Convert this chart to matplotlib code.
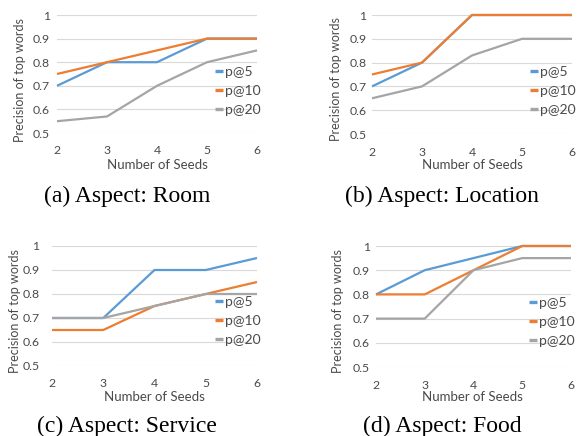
import matplotlib
matplotlib.use("Agg")
import matplotlib.pyplot as plt

seeds = [2, 3, 4, 5, 6]
series_names = ["p@5", "p@10", "p@20"]

room_p5 = [0.70, 0.80, 0.80, 0.90, 0.90]
room_p10 = [0.75, 0.80, 0.85, 0.90, 0.90]
room_p20 = [0.55, 0.57, 0.70, 0.80, 0.85]

location_p5 = [0.70, 0.80, 1.00, 1.00, 1.00]
location_p10 = [0.75, 0.80, 1.00, 1.00, 1.00]
location_p20 = [0.65, 0.70, 0.83, 0.90, 0.90]

service_p5 = [0.70, 0.70, 0.90, 0.90, 0.95]
service_p10 = [0.65, 0.65, 0.75, 0.80, 0.85]
service_p20 = [0.70, 0.70, 0.75, 0.80, 0.80]

food_p5 = [0.80, 0.90, 0.95, 1.00, 1.00]
food_p10 = [0.80, 0.80, 0.90, 1.00, 1.00]
food_p20 = [0.70, 0.70, 0.90, 0.95, 0.95]

yticks = [0.5, 0.6, 0.7, 0.8, 0.9, 1.0]
ytick_labels = ["0.5", "0.6", "0.7", "0.8", "0.9", "1"]
captions = ["(a) Aspect: Room", "(b) Aspect: Location",
            "(c) Aspect: Service", "(d) Aspect: Food"]

colors = ["#5B9BD5", "#ED7D31", "#A5A5A5"]
text_color = "#4A4A4A"

W, H = 581, 436
fig = plt.figure(figsize=(W / 100, H / 100), dpi=100)

# pixel boxes: (left, right, top, bottom)
boxes = [(57, 257, 15, 133), (372, 572, 15, 134),
         (52, 257, 246, 366), (376, 571, 246, 367)]
legend_anchor = [(0.79, 0.356), (0.79, 0.361), (0.795, 0.375), (0.785, 0.372)]
ylab_pos = [(-0.185, 0.45), (-0.18, 0.46), (-0.18, 0.46), (-0.195, 0.46)]
xlab_pos = [(0.5, -0.27), (0.5, -0.26), (0.4976, -0.255), (0.497, -0.245)]
ypads = [5, 4, 9, 4.5]
xpads = [8.5, 9, 8.5, 9.5]
caption_pos = [(127, 196), (442, 196), (127, 426), (442, 426)]

data = [
    [room_p5, room_p10, room_p20],
    [location_p5, location_p10, location_p20],
    [service_p5, service_p10, service_p20],
    [food_p5, food_p10, food_p20],
]

font = "Lato"
for i, (l, r, t, b) in enumerate(boxes):
    ax = fig.add_axes([l / W, 1 - b / H, (r - l) / W, (b - t) / H])
    for vals, name, c in zip(data[i], series_names, colors):
        ax.plot(seeds, vals, color=c, lw=1.6, label=name, clip_on=False,
                solid_capstyle="butt", zorder=3)
    ax.set_xlim(2, 6)
    ax.set_ylim(0.5, 1.0)
    ax.set_yticks(yticks)
    ax.set_yticklabels(ytick_labels)
    ax.set_xticks(seeds)
    ax.grid(axis="y", color="#D9D9D9", lw=0.8, zorder=0)
    ax.set_axisbelow(True)
    for s in ax.spines.values():
        s.set_visible(False)
    ax.tick_params(axis="both", length=0, labelsize=8.8, labelcolor=text_color)
    ax.tick_params(axis="y", pad=ypads[i])
    ax.tick_params(axis="x", pad=xpads[i])
    for lab in ax.get_xticklabels() + ax.get_yticklabels():
        lab.set_fontfamily(font)
    ax.set_xlabel("Number of Seeds", fontsize=9.5, color=text_color,
                  fontfamily=font, va="center")
    ax.set_ylabel("Precision of top words", fontsize=9, color=text_color,
                  fontfamily=font, va="center")
    ax.xaxis.set_label_coords(*xlab_pos[i])
    ax.yaxis.set_label_coords(*ylab_pos[i])
    leg = ax.legend(loc="center left", bbox_to_anchor=legend_anchor[i],
                    frameon=False, handlelength=0.6, handletextpad=0.1,
                    labelspacing=0.5, borderpad=0, borderaxespad=0,
                    prop={"family": font, "size": 10})
    for txt in leg.get_texts():
        txt.set_color(text_color)
    for h in leg.get_lines():
        h.set_linewidth(2.4)
    cx, cy = caption_pos[i]
    fig.text(cx / W, 1 - cy / H, captions[i], ha="center", va="center",
             fontsize=17, fontfamily="Liberation Serif", color="black")

fig.savefig("out.png", dpi=100)
